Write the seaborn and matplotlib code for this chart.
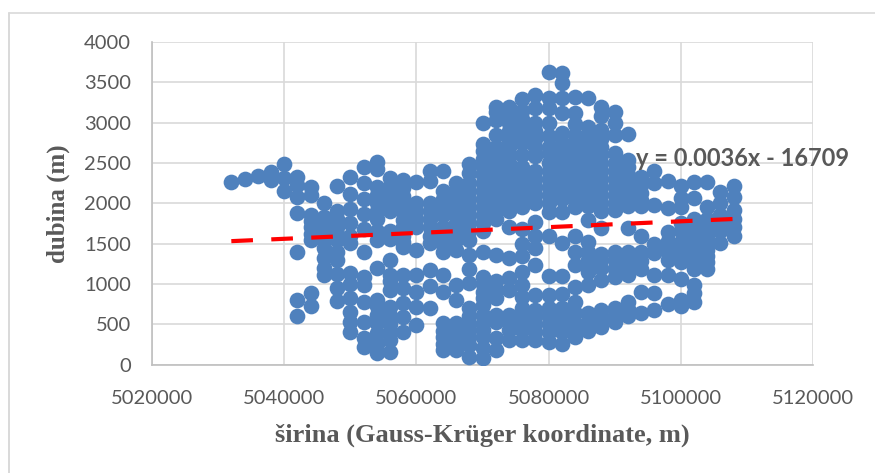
import pandas as pd
import matplotlib
matplotlib.use('Agg')
import matplotlib.pyplot as plt
import seaborn as sns

x_ticks = [5020000, 5040000, 5060000, 5080000, 5100000, 5120000]
y_ticks = [0, 500, 1000, 1500, 2000, 2500, 3000, 3500, 4000]

# depths, one list per easting
d5032 = [2260]
d5034 = [2300]
d5036 = [2340]
d5038 = [2390, 2290]
d5040 = [2490, 2310, 2150]
d5042 = [2330, 2230, 2080, 1880, 1400, 800, 600]
d5044 = [2205, 2100, 1855, 1780, 1700, 1620, 1540, 890, 720]
d5046 = [2000, 1830, 1750, 1650, 1540, 1450, 1320, 1200, 1110]
d5048 = [2210, 1900, 1800, 1710, 1620, 1550, 1400, 1300, 1120, 950, 790]
d5050 = [2330, 2120, 1930, 1750, 1600, 1510, 1130, 1000, 825, 650, 525, 405]
d5052 = [2450, 2250, 2050, 1870, 1680, 1400, 1090, 990, 780, 530, 330, 220]
d5054 = [2510, 2420, 2200, 2100, 2000, 1900, 1800, 1650, 1540, 1195, 800, 720, 620, 510, 390, 260, 140]
d5056 = [2310, 2200, 2100, 2000, 1900, 1660, 1560, 1300, 1110, 1030, 920, 710, 600, 500, 400, 300, 150]
d5058 = [2290, 2190, 2090, 1990, 1890, 1790, 1700, 1600, 1520, 1460, 1110, 950, 760, 590, 405]
d5060 = [2260, 2000, 1900, 1800, 1700, 1420, 1110, 900, 710, 490]
d5062 = [2400, 2280, 2000, 1900, 1800, 1700, 1590, 1505, 1175, 968, 700]
d5064 = [2400, 2150, 2050, 1950, 1850, 1700, 1600, 1500, 1400, 1110, 900, 510, 410, 345, 260, 180]
d5066 = [2250, 2150, 2050, 1950, 1850, 1750, 1650, 1550, 1420, 990, 800, 510, 420, 345, 260, 180]
d5068 = [2490, 2380, 2250, 2150, 2050, 1950, 1850, 1750, 1650, 1550, 1360, 1190, 1010, 700, 600, 500, 430, 340, 240, 95]
d5070 = [3000, 2740, 2650, 2550, 2450, 2350, 2250, 2150, 2050, 1950, 1850, 1750, 1650, 1400, 1090, 1000, 900, 820, 740, 610, 520, 430, 340, 200, 80]
d5072 = [3200, 3130, 3030, 2850, 2700, 2600, 2500, 2400, 2300, 2200, 2100, 2000, 1900, 1800, 1360, 1030, 930, 820, 615, 530, 325, 180]
d5074 = [3200, 3100, 3000, 2900, 2790, 2700, 2600, 2500, 2400, 2300, 2200, 2100, 2000, 1900, 1710, 1320, 1070, 930, 615, 530, 430, 300]
d5076 = [3290, 3150, 3050, 2950, 2850, 2750, 2600, 2450, 2350, 2250, 2150, 2050, 1950, 1680, 1500, 1340, 1150, 990, 840, 700, 615, 530, 430, 300]
d5078 = [3340, 3180, 3000, 2900, 2800, 2700, 2580, 2400, 2300, 2200, 2100, 2000, 1770, 1600, 1440, 1240, 860, 680, 590, 500, 400, 300]
d5080 = [3630, 3300, 3180, 2990, 2830, 2700, 2620, 2500, 2400, 2300, 2200, 2100, 2000, 1890, 1600, 1100, 860, 700, 615, 500, 400, 285]
d5082 = [3610, 3490, 3300, 3120, 2870, 2750, 2650, 2550, 2450, 2350, 2250, 2150, 2050, 1890, 1510, 1100, 880, 700, 600, 510, 400, 260]
d5084 = [3320, 3120, 2980, 2850, 2750, 2650, 2550, 2450, 2350, 2250, 2150, 2050, 1950, 1600, 1400, 1240, 960, 780, 640, 510, 420, 340]
d5086 = [3300, 2950, 2850, 2750, 2650, 2550, 2450, 2350, 2250, 2150, 2050, 1960, 1795, 1520, 1400, 1300, 1240, 1150, 990, 640, 530, 420]
d5088 = [3200, 3080, 2910, 2800, 2700, 2600, 2500, 2400, 2300, 2200, 2100, 2000, 1900, 1690, 1370, 1300, 1200, 1050, 680, 560, 470]
d5090 = [3130, 2990, 2850, 2620, 2500, 2400, 2300, 2200, 2100, 2000, 1915, 1400, 1300, 1190, 1090, 700, 620, 530]
d5092 = [2860, 2540, 2450, 2350, 2250, 2150, 2050, 1960, 1690, 1400, 1300, 1190, 1110, 780, 690, 600]
d5094 = [2330, 2230, 2130, 2040, 1960, 1600, 1400, 1280, 1190, 900, 640]
d5096 = [2400, 2250, 1980, 1490, 1380, 1110, 890, 680]
d5098 = [2275, 1940, 1640, 1530, 1450, 1380, 1290, 1110, 750]
d5100 = [2215, 2065, 1950, 1750, 1650, 1520, 1440, 1360, 1270, 1060, 800, 720]
d5102 = [2265, 2060, 1800, 1700, 1600, 1500, 1440, 1360, 1280, 1190, 990, 890, 780]
d5104 = [2265, 1950, 1800, 1700, 1600, 1500, 1420, 1350, 1270, 1190]
d5106 = [2140, 2000, 1850, 1750, 1650, 1505]
d5108 = [2210, 2075, 1920, 1800, 1700, 1590]

eastings = list(range(5032000, 5110000, 2000))
depths = [d5032, d5034, d5036, d5038, d5040, d5042, d5044, d5046, d5048, d5050,
          d5052, d5054, d5056, d5058, d5060, d5062, d5064, d5066, d5068, d5070,
          d5072, d5074, d5076, d5078, d5080, d5082, d5084, d5086, d5088, d5090,
          d5092, d5094, d5096, d5098, d5100, d5102, d5104, d5106, d5108]

trend_x = [5032000, 5108000]
trend_y = [1530, 1805]

rows = []
for e, col in zip(eastings, depths):
    for d in col:
        rows.append((e, d))
points = pd.DataFrame(rows, columns=['sirina', 'dubina'])

sns.set_theme(style='white')
plt.rcParams['font.family'] = ['Lato', 'DejaVu Sans']

fig = plt.figure(figsize=(8.75, 4.73), dpi=100)
ax = fig.add_axes([152 / 875, 1 - 364.5 / 473, 661 / 875, 322.5 / 473])

sns.scatterplot(data=points, x='sirina', y='dubina', color='#4f81bd', s=128,
                linewidth=0, ax=ax, zorder=3)
sns.lineplot(x=trend_x, y=trend_y, color='#ff0000', linewidth=3, ax=ax, zorder=4,
             linestyle=(0, (5.2, 4.4)), errorbar=None)

ax.set_xlim(5020000, 5120000)
ax.set_ylim(0, 4000)
ax.set_xticks(x_ticks)
ax.set_xticklabels([str(t) for t in x_ticks])
ax.set_yticks(y_ticks)
ax.grid(True, color='#d9d9d9', linewidth=1.2)
ax.set_axisbelow(True)
ax.tick_params(length=0, labelsize=14.5, labelcolor='#595959')
ax.tick_params(axis='x', pad=18)
ax.tick_params(axis='y', pad=15)
for s in ['top', 'right']:
    ax.spines[s].set_visible(False)
for s in ['left', 'bottom']:
    ax.spines[s].set_color('#bfbfbf')
    ax.spines[s].set_linewidth(1.2)

ax.set_xlabel('širina (Gauss-Krüger koordinate, m)', family='Liberation Serif',
              fontweight='bold', fontsize=19, color='#595959', labelpad=12)
ax.set_ylabel('dubina (m)', family='Liberation Serif', fontweight='bold',
              fontsize=18, color='#595959', labelpad=10)

ax.text(5093200, 2560, 'y = 0.0036x - 16709', fontsize=17, fontweight='bold',
        color='#595959', va='center', zorder=5)

# thin outer frame of the pasted chart
fig.add_artist(plt.Line2D([8.5 / 875, 8.5 / 875], [0, 1 - 13.5 / 473], color='#d9d9d9', lw=1.4))
fig.add_artist(plt.Line2D([8.5 / 875, 1], [1 - 13.5 / 473, 1 - 13.5 / 473], color='#d9d9d9', lw=1.2))

fig.savefig('out.png', dpi=100)
